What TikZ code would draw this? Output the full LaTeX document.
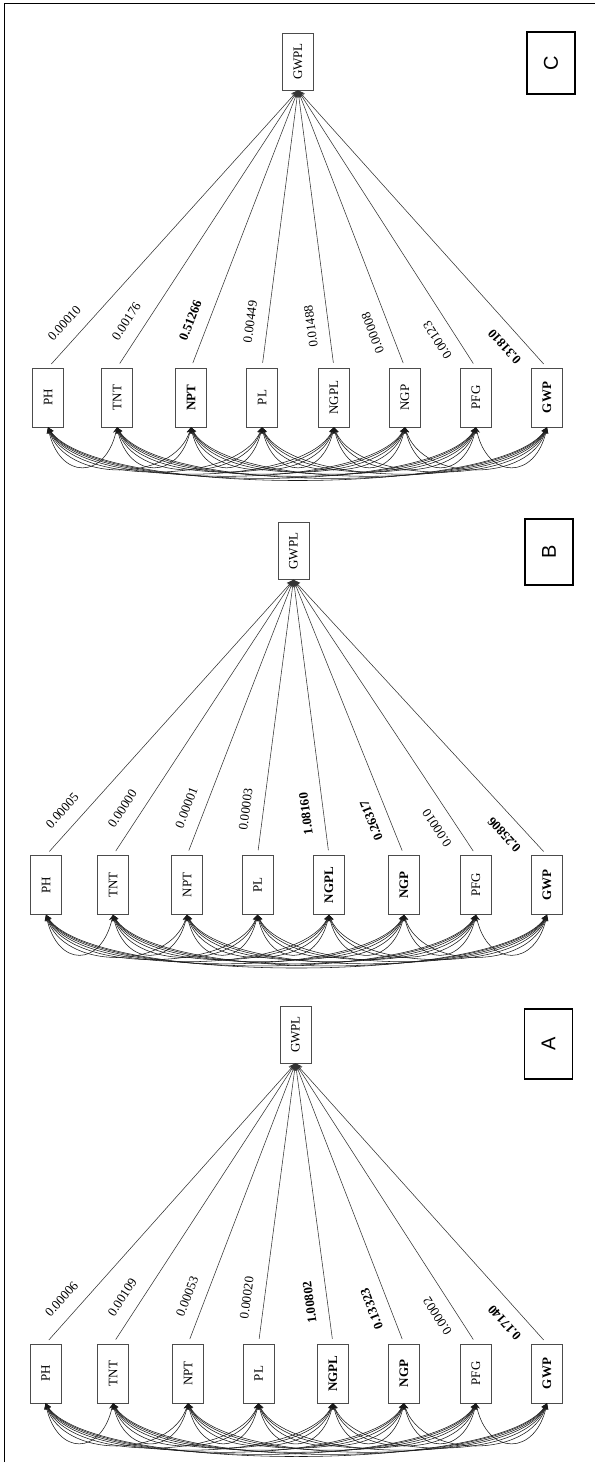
\documentclass[tikz,border=0pt]{standalone}
\usepackage{fontspec}
\setmainfont{Liberation Serif}
\newfontfamily\tagsans{Liberation Sans}
\usetikzlibrary{arrows.meta,calc}

\tikzset{
  obs/.style={draw=black!70, line width=0.6pt, fill=white, rotate=90, minimum width=59pt, minimum height=31pt, inner sep=0pt, font=\fontsize{13}{13}\selectfont},
  dep/.style={obs, minimum width=57pt},
  paneltag/.style={draw, line width=1.6pt, rotate=90, minimum width=62pt, minimum height=48pt, inner sep=0pt, font=\tagsans\fontsize{20}{20}\selectfont},
  regpath/.style={draw=black!80, line width=0.55pt, -{Stealth[length=7pt,width=6pt]}, shorten <=5pt},
  cov/.style={draw=black!90, line width=0.55pt, {Stealth[length=6pt,width=5.5pt]}-{Stealth[length=6pt,width=5.5pt]}},
  lab/.style={font=\fontsize{13}{13}\selectfont, sloped, allow upside down, above=12pt, inner sep=1pt, midway},
}

% #1 name, #2 yBox, #3 xG, #4 yG, #5 tagx, #6 tagy, #7 tag text, #8 tag height, #9 list
\newcommand\drawpanel[9]{%
  \node[paneltag, minimum width=#8pt] (#1tag) at (#5,-#6) {#7};
  \node[dep] (#1G) at (#3,-#4) {GWPL};
  \foreach \i/\x/\t/\lbl in {#9} {
    \node[obs] (#1\i) at (\x,-#2) {\t};
  }
  \foreach \i in {1,...,7} {
    \pgfmathtruncatemacro\ii{\i+1}
    \foreach \j in {\ii,...,8} {
      \pgfmathsetmacro\dd{(\j-\i)*71}
      \pgfmathsetmacro\aa{6+0.08*\dd}
      \pgfmathsetmacro\hh{50+0.04*\dd}
      \draw[cov] (#1\i.west) .. controls +(\aa,-\hh) and +(-\aa,-\hh) .. (#1\j.west);
    }
  }
  \foreach \i/\x/\t/\lbl in {#9} {
    \draw[regpath] (#1\i.east) -- (#1G.west);
    \path (#1\i.east) -- ($(#1\i.east)!88pt!(#1G.west)$) node[lab] {\lbl};
  }
}

\begin{document}
\begin{tikzpicture}[x=1pt,y=1pt]
\useasboundingbox (0,0) rectangle (595,-1472);
\draw[line width=1pt] (4.5,-1462) coordinate (fb) -- (4.5,-3.3) coordinate (fc) -- (595,-3.3) coordinate (fd);

\drawpanel{C}{397.5}{298}{61.5}{551}{63}{C}{62}{%
  1/48/PH/0.00010,
  2/117/TNT/0.00176,
  3/191/\textbf{NPT}/\textbf{0.51266},
  4/262/PL/0.00449,
  5/334/NGPL/0.01488,
  6/405/NGP/0.00008,
  7/476/PFG/0.00123,
  8/547/\textbf{GWP}/\textbf{0.31810}}

\drawpanel{B}{885}{293.5}{551}{549}{552}{B}{66}{%
  1/46/PH/0.00005,
  2/113/TNT/0.00000,
  3/187/NPT/0.00001,
  4/257.5/PL/0.00003,
  5/329/\textbf{NGPL}/\textbf{1.08160},
  6/404/\textbf{NGP}/\textbf{0.26317},
  7/476/PFG/0.00010,
  8/547/\textbf{GWP}/\textbf{0.25806}}

\drawpanel{A}{1373.5}{295.5}{1034.5}{548.5}{1044}{A}{70}{%
  1/45.5/PH/0.00006,
  2/113/TNT/0.00109,
  3/188/NPT/0.00053,
  4/258.5/PL/0.00020,
  5/333/\textbf{NGPL}/\textbf{1.00802},
  6/404/\textbf{NGP}/\textbf{0.13323},
  7/476/PFG/0.00002,
  8/547/\textbf{GWP}/\textbf{0.17140}}
\end{tikzpicture}
\end{document}
